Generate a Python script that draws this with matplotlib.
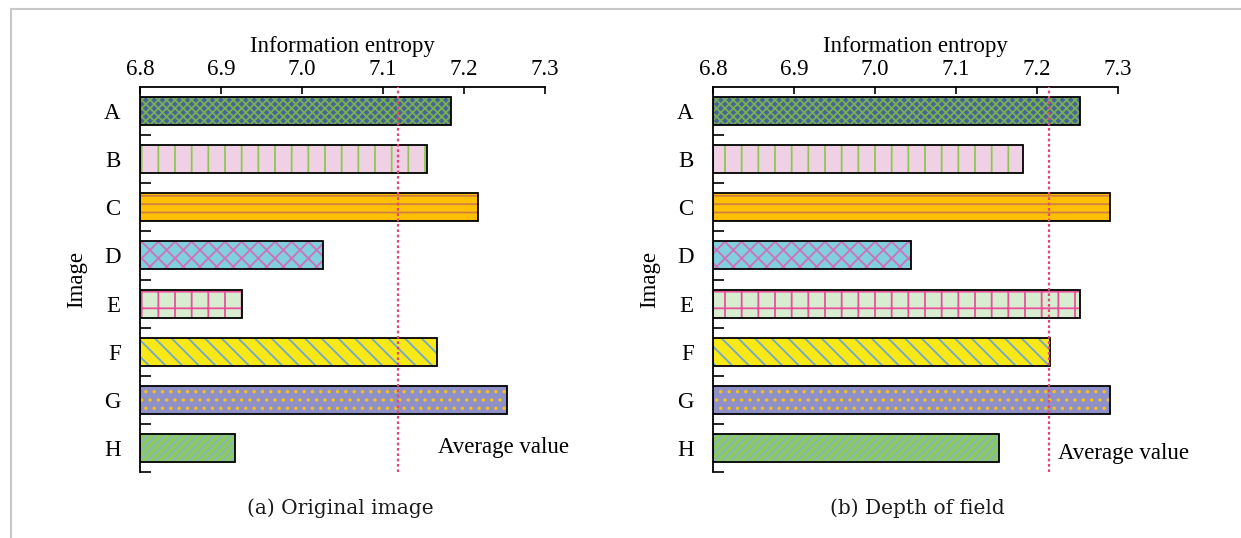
import matplotlib
matplotlib.use("Agg")
import matplotlib.pyplot as plt
from matplotlib.lines import Line2D
import numpy as np

categories = ["A", "B", "C", "D", "E", "F", "G", "H"]
original_values = [7.184, 7.154, 7.217, 7.026, 6.926, 7.167, 7.253, 6.917]
dof_values = [7.253, 7.183, 7.290, 7.044, 7.253, 7.216, 7.290, 7.153]
original_avg = 7.119
dof_avg = 7.215
x_ticks = [6.8, 6.9, 7.0, 7.1, 7.2, 7.3]
x_ticklabels = ["6.8", "6.9", "7.0", "7.1", "7.2", "7.3"]
captions = ["(a) Original image", "(b) Depth of field"]

face_colors = ["#46639c", "#f0d0e4", "#ffc000", "#80d0e0", "#d8ecd0", "#f8e818", "#9090c8", "#90c860"]
hatch_colors = ["#78b050", "#8cc850", "#d08040", "#d070b8", "#e8509a", "#70a8d0", "#f0c020", "#80b8c0"]
hatches = ["xxxx", "|", "--", "xx", "+", "\\\\", "..", "////"]

plt.rcParams["hatch.linewidth"] = 1.3
serif = ["Liberation Serif", "DejaVu Serif"]
FS = 16.5

fig = plt.figure(figsize=(12.41, 5.38), dpi=100)

panels = [
    (140 / 1241, original_values, original_avg, (438, 448), 340),
    (713 / 1241, dof_values, dof_avg, (1058, 454), 917),
]
ax_w = 405 / 1241
ax_b = 1 - 472 / 538
ax_h = (472 - 87) / 538

for i, (left, vals, avg, txtpos, capx) in enumerate(panels):
    ax = fig.add_axes([left, ax_b, ax_w, ax_h])
    y = np.arange(len(categories))
    base = x_ticks[0]
    widths = [v - base for v in vals]
    for j in range(len(categories)):
        ax.barh(y[j], widths[j], left=base, height=0.58, color=face_colors[j],
                edgecolor=hatch_colors[j], hatch=hatches[j], linewidth=0, zorder=2)
    ax.barh(y, widths, left=base, height=0.58, facecolor="none",
            edgecolor="black", linewidth=1.3, zorder=3)
    ax.axvline(avg, color="#e8437a", linestyle=(0, (1.2, 1.2)), linewidth=1.6, zorder=4)
    ax.set_xlim(x_ticks[0], x_ticks[-1])
    ax.set_ylim(7.5, -0.5)
    ax.xaxis.set_ticks_position("top")
    ax.xaxis.set_label_position("top")
    ax.set_xticks(x_ticks)
    ax.set_xticklabels(x_ticklabels, fontfamily=serif, fontsize=FS)
    ax.tick_params(axis="x", direction="in", length=5, width=1.2, pad=5, colors="black")
    ax.set_yticks(y)
    ax.set_yticklabels(categories, fontfamily=serif, fontsize=FS)
    ax.tick_params(axis="y", which="major", length=0, pad=14)
    ax.set_yticks(np.arange(0.5, 8.0, 1.0), minor=True)
    ax.tick_params(axis="y", which="minor", direction="in", length=8, width=1.2)
    for s in ["right", "bottom"]:
        ax.spines[s].set_visible(False)
    for s in ["top", "left"]:
        ax.spines[s].set_linewidth(1.3)
    ax.set_xlabel("Information entropy", fontfamily=serif, fontsize=FS, labelpad=5)
    ax.set_ylabel("Image", fontfamily=serif, fontsize=FS, labelpad=12)
    fig.text(txtpos[0] / 1241, 1 - txtpos[1] / 538, "Average value", fontfamily=serif,
             fontsize=FS, ha="left", va="center")
    fig.text(capx / 1241, 1 - 508 / 538, captions[i], fontfamily="DejaVu Serif",
             fontsize=14.5, ha="center", va="center", color="#1a1a1a")

# figure frame lines (top and left)
fig.add_artist(Line2D([10.5 / 1241, 10.5 / 1241], [0, 1 - 8.5 / 538],
                      transform=fig.transFigure, color="#c8c8c8", linewidth=1.5))
fig.add_artist(Line2D([10.5 / 1241, 1], [1 - 8.5 / 538, 1 - 8.5 / 538],
                      transform=fig.transFigure, color="#c8c8c8", linewidth=1.5))

fig.savefig("out.png", dpi=100)
